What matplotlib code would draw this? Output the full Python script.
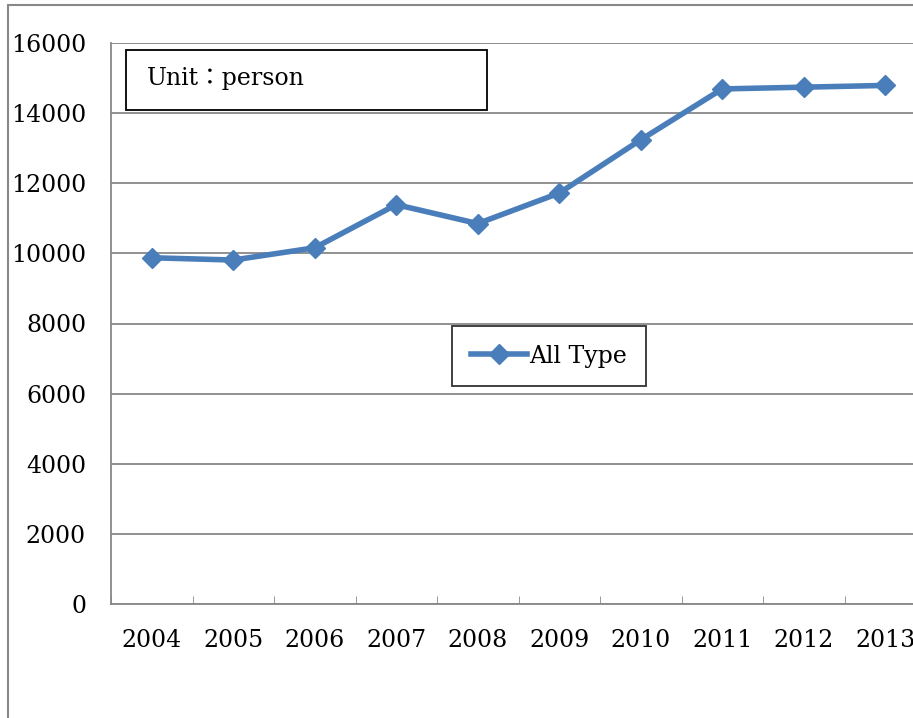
import numpy as np
import matplotlib.pyplot as plt
from matplotlib.patches import Rectangle

years = ["2004", "2005", "2006", "2007", "2008", "2009", "2010", "2011", "2012", "2013"]
all_type = [9875, 9810, 10160, 11390, 10850, 11720, 13240, 14690, 14740, 14790]
yticks = [0, 2000, 4000, 6000, 8000, 10000, 12000, 14000, 16000]

plt.rcParams['font.family'] = ['DejaVu Serif', 'Noto Sans CJK JP']
blue = '#4a7ebb'
gray = '#888888'
fs = 17

fig = plt.figure(figsize=[9.13, 7.18], dpi=100)
# outer chart border (cut off on right and bottom)
fig.patches.append(Rectangle((8/913, -0.1), 1.2, 1 - 5/718 + 0.1, transform=fig.transFigure,
                             fill=False, ec=gray, lw=1.5))

ax = fig.add_axes([111/913, 1 - 604/718, 815/913, 561/718])
x = np.arange(len(years))
ax.plot(x, all_type, color=blue, lw=4, marker='D', ms=10, label="All Type")

ax.set_xlim(-0.5, len(years) - 0.5)
ax.set_ylim(0, 16000)
ax.set_yticks(yticks)
ax.set_yticklabels([str(v) for v in yticks], fontsize=fs)
ax.set_xticks(x)
ax.set_xticklabels(years, fontsize=fs)
ax.set_xticks(np.arange(-0.5, len(years)), minor=True)
ax.tick_params(axis='x', which='major', length=0, pad=18)
ax.tick_params(axis='x', which='minor', length=6, color=gray, direction='in')
ax.tick_params(axis='y', length=0, pad=18)
ax.grid(axis='y', color=gray, lw=1.3)
ax.set_axisbelow(True)
for s in ['top', 'right']:
    ax.spines[s].set_visible(False)
for s in ['left', 'bottom']:
    ax.spines[s].set_color(gray)
    ax.spines[s].set_linewidth(1.3)

# unit box
fig.patches.append(Rectangle((126/913, 1 - 110/718), 361/913, 60/718, transform=fig.transFigure,
                             fill=True, fc='white', ec='black', lw=1.3, zorder=5))
fig.text(147/913, 1 - 78/718, "Unit：person", fontsize=fs, va='center', zorder=6)

leg = ax.legend(loc='center', bbox_to_anchor=(549/913, 1 - 356/718), bbox_transform=fig.transFigure,
                fontsize=fs, frameon=True, fancybox=False, handlelength=2.4, handletextpad=0.1,
                borderpad=0.8, borderaxespad=0)
leg.get_frame().set_edgecolor('black')
leg.get_frame().set_linewidth(1.3)

plt.savefig("out.png", dpi=100)
